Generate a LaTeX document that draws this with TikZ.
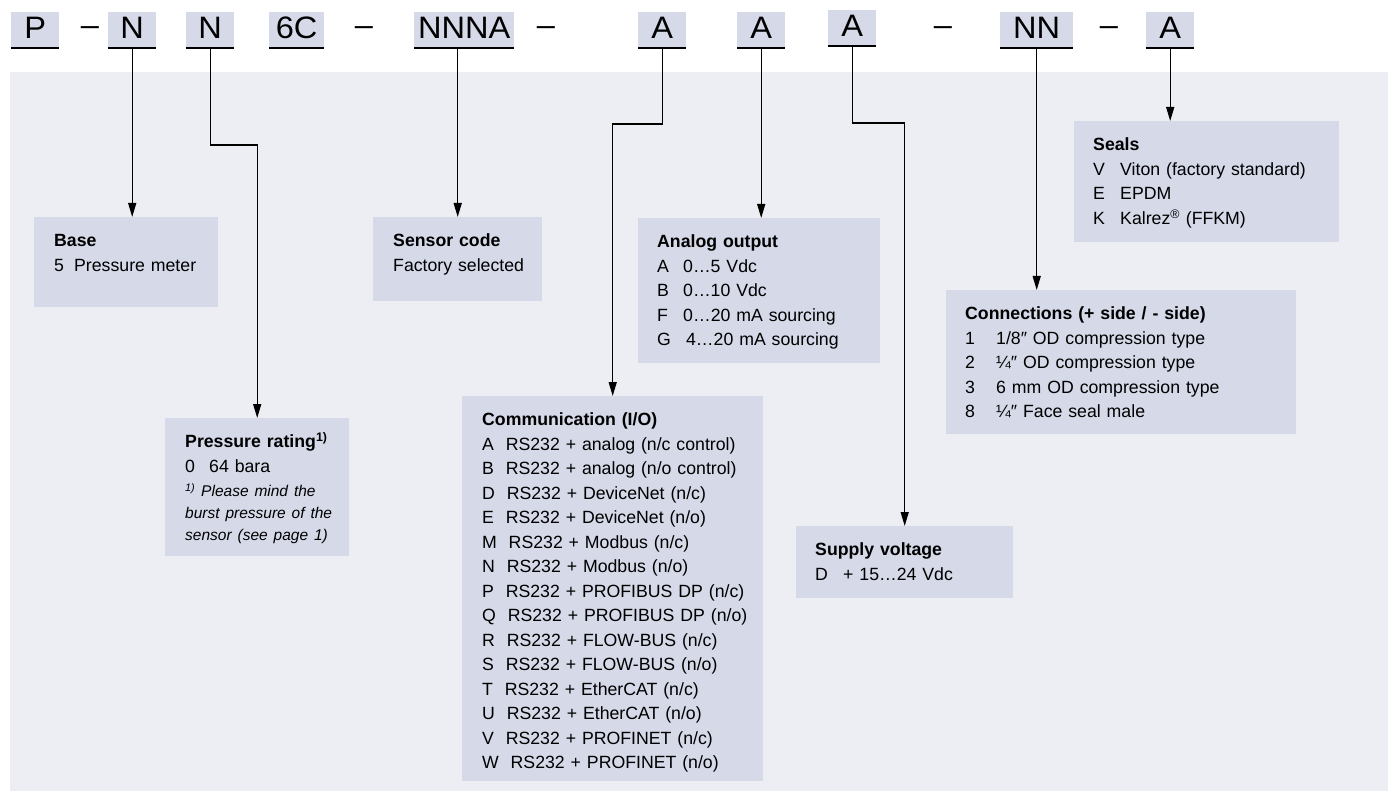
\documentclass[tikz,border=0pt]{standalone}
\usepackage{fontspec}
\setmainfont{Liberation Sans}
\newfontfamily\codefont{Liberation Sans}[FakeStretch=1.05]
\usetikzlibrary{arrows.meta}

\definecolor{panelfill}{RGB}{237,238,244}
\definecolor{boxfill}{RGB}{213,217,232}

\newcommand\infosize{\fontsize{17.7}{24.5}\selectfont}
\newcommand\notesize{\fontsize{15.5}{22}\selectfont}
\newcommand\col[2]{\makebox[#1][l]{#2}}

\begin{document}
\begin{tikzpicture}[x=1pt, y=-1pt,
    codebox/.style={fill=boxfill, anchor=south west, inner sep=0pt,
                    minimum width=48pt, text height=27pt, text depth=9pt,
                    font=\codefont\fontsize{31}{36}\selectfont},
    codedash/.style={anchor=base, inner sep=0pt,
                     font=\codefont\fontsize{31}{36}\selectfont},
    infobox/.style={fill=boxfill, anchor=north west, inner sep=0pt},
    infotext/.style={anchor=north west, inner sep=0pt, text width=320pt,
                     align=left, font=\infosize},
    link/.style={line width=1.4pt, -{Triangle[length=14pt,width=8pt]}}]

    \useasboundingbox (0,0) rectangle (1392,794);
    \fill[panelfill] (10,72) rectangle (1388,791);

    % order code
    \node[codebox] (cP) at (11,48) {P};
    \node[codedash] (d1) at (90,36) {–};
    \node[codebox] (cBase) at (108,48) {N};
    \node[codebox] (cRating) at (186,48) {N};
    \node[codebox, minimum width=55pt] (cSix) at (269,48) {6C};
    \node[codedash] (d2) at (364,36) {–};
    \node[codebox, minimum width=100pt] (cSensor) at (414,48) {NNNA};
    \node[codedash] (d3) at (546,36) {–};
    \node[codebox] (cComm) at (638,48) {A};
    \node[codebox] (cAnalog) at (737,48) {A};
    \node[codebox] (cSupply) at (828,46) {A};
    \node[codedash] (d4) at (943,36) {–};
    \node[codebox, minimum width=73pt] (cConn) at (1000,48) {NN};
    \node[codedash] (d5) at (1109,36) {–};
    \node[codebox] (cSeal) at (1146,48) {A};

    \foreach \c in {cP,cBase,cRating,cSix,cSensor,cComm,cAnalog,cSupply,cConn,cSeal}
        \draw[line width=2pt] (\c.south west) -- (\c.south east);

    % option boxes
    \node[infobox, minimum width=184pt, minimum height=90pt] (base) at (34,217) {};
    \node[infobox, minimum width=169pt, minimum height=84pt] (sensor) at (373,217) {};
    \node[infobox, minimum width=242pt, minimum height=145pt] (analog) at (638,218) {};
    \node[infobox, minimum width=301pt, minimum height=385pt] (comm) at (462,396) {};
    \node[infobox, minimum width=184pt, minimum height=138pt] (rating) at (165,418) {};
    \node[infobox, minimum width=217pt, minimum height=72pt] (supply) at (796,526) {};
    \node[infobox, minimum width=350pt, minimum height=144pt] (conn) at (946,290) {};
    \node[infobox, minimum width=265pt, minimum height=121pt] (seals) at (1074,121) {};

    \node[infotext] (baseTxt) at ([shift={(20,12.5)}]base.north west)
        {\strut\textbf{Base}\\ \col{20pt}{5}Pressure meter};
    \node[infotext] (sensorTxt) at ([shift={(20,12.5)}]sensor.north west)
        {\strut\textbf{Sensor code}\\ Factory selected};
    \node[infotext] (analogTxt) at ([shift={(19,12.5)}]analog.north west)
        {\strut\textbf{Analog output}\\ \col{26pt}{A}0…5 Vdc\\ \col{26pt}{B}0…10 Vdc\\
         \col{26pt}{F}0…20 mA sourcing\\ \col{26pt}{G}\,4…20 mA sourcing};
    \node[infotext] (commTxt) at ([shift={(20,12.5)}]comm.north west)
        {\strut\textbf{Communication (I/O)}\\
         A~~RS232 + analog (n/c control)\\
         B~~RS232 + analog (n/o control)\\
         D~~RS232 + DeviceNet (n/c)\\
         E~~RS232 + DeviceNet (n/o)\\
         M~~RS232 + Modbus (n/c)\\
         N~~RS232 + Modbus (n/o)\\
         P~~RS232 + PROFIBUS DP (n/c)\\
         Q~~RS232 + PROFIBUS DP (n/o)\\
         R~~RS232 + FLOW-BUS (n/c)\\
         S~~RS232 + FLOW-BUS (n/o)\\
         T~~RS232 + EtherCAT (n/c)\\
         U~~RS232 + EtherCAT (n/o)\\
         V~~RS232 + PROFINET (n/c)\\
         W~~RS232 + PROFINET (n/o)};
    \node[infotext] (ratingTxt) at ([shift={(20,12.5)}]rating.north west)
        {\strut\textbf{Pressure rating\textsuperscript{1)}}\\ \col{24pt}{0}64 bara\par
         \vspace{2pt}{\notesize\itshape \textsuperscript{1)} Please mind the\\
         burst pressure of the\\ sensor (see page 1)\par}};
    \node[infotext] (supplyTxt) at ([shift={(19,12.5)}]supply.north west)
        {\strut\textbf{Supply voltage}\\ \col{28pt}{D}+ 15…24 Vdc};
    \node[infotext] (connTxt) at ([shift={(19,12.5)}]conn.north west)
        {\strut\textbf{Connections (+ side / - side)}\\
         \col{31pt}{1}1/8″ OD compression type\\
         \col{31pt}{2}¼″ OD compression type\\
         \col{31pt}{3}6 mm OD compression type\\
         \col{31pt}{8}¼″ Face seal male};
    \node[infotext] (sealsTxt) at ([shift={(19,12.5)}]seals.north west)
        {\strut\textbf{Seals}\\ \col{27pt}{V}Viton (factory standard)\\
         \col{27pt}{E}EPDM\\ \col{27pt}{K}Kalrez\textsuperscript{®} (FFKM)};

    % connectors
    \draw[link] (cBase.south) -- (cBase.south |- base.north);
    \draw[link] (cRating.south) |- (rating.north |- 0,145) -- (rating.north);
    \draw[link] (sensor.north |- cSensor.south) -- (sensor.north);
    \draw[link] (cComm.south) |- (comm.north |- 0,124) -- (comm.north);
    \draw[link] (cAnalog.south) -- (cAnalog.south |- analog.north);
    \draw[link] (cSupply.south) |- (supply.north |- 0,123) -- (supply.north);
    \draw[link] (cConn.south) -- (cConn.south |- conn.north);
    \draw[link] (cSeal.south) -- (cSeal.south |- seals.north);
\end{tikzpicture}
\end{document}
